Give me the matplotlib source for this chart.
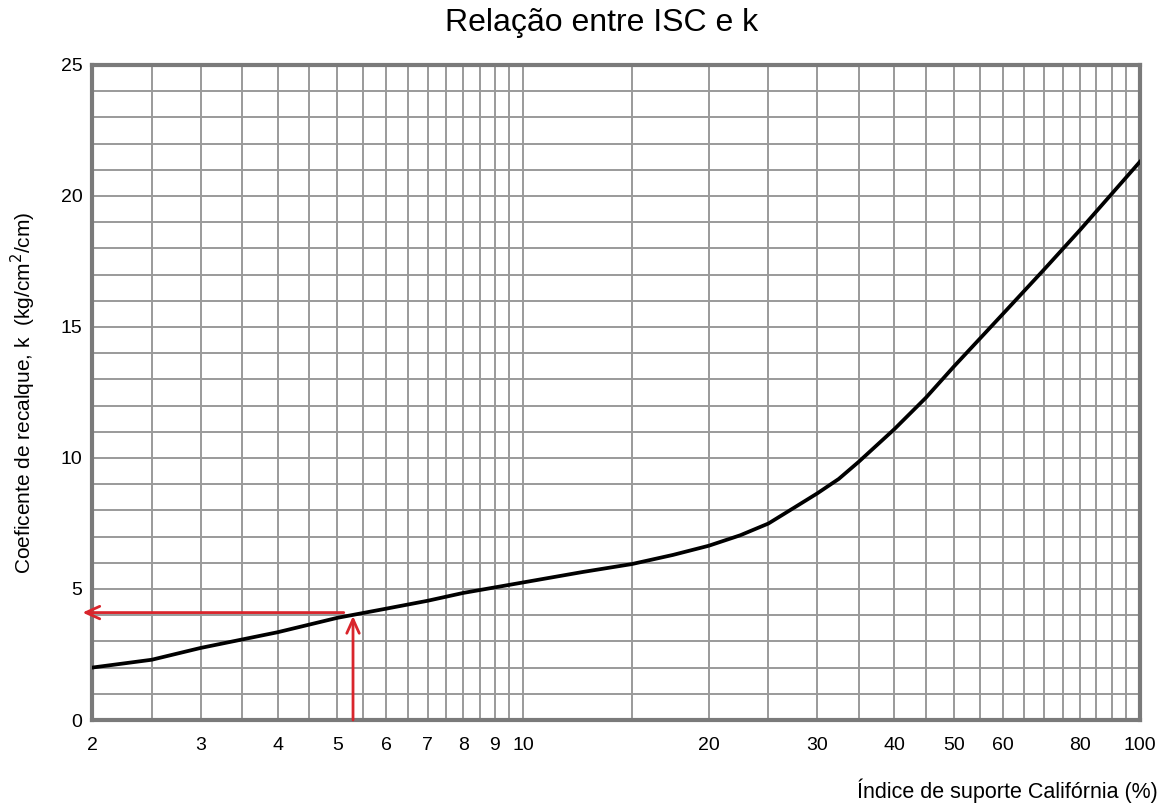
import numpy as np
import matplotlib.pyplot as plt
from matplotlib.ticker import FixedLocator, NullFormatter

plt.rcParams['font.family'] = ['Liberation Sans', 'DejaVu Sans']

# curva ISC x k
isc = [2, 2.5, 3, 4, 5, 6, 7, 8, 10, 12.5, 15, 17.5, 20, 22.5, 25, 27.5, 30, 32.5, 35, 40, 45,
       50, 60, 70, 80, 100]
k = [2.0, 2.3, 2.75, 3.35, 3.9, 4.25, 4.55, 4.85, 5.25, 5.65, 5.95, 6.3, 6.65, 7.05, 7.5, 8.1,
     8.65, 9.2, 9.85, 11.1, 12.3, 13.5, 15.5, 17.2, 18.7, 21.3]

# exemplo de leitura (setas vermelhas)
isc_lido = 5.3
k_lido = 4.1

xtick_vals = [2, 3, 4, 5, 6, 7, 8, 9, 10, 20, 30, 40, 50, 60, 80, 100]
ytick_vals = [0, 5, 10, 15, 20, 25]

fig = plt.figure(figsize=(11.75, 8.07), dpi=100)
ax = fig.add_axes([0.0783, 0.1078, 0.8917, 0.8117])

ax.set_xscale('log')
ax.set_xlim(2, 100)
ax.set_ylim(0, 25)

# papel milimetrado
grid_x = list(np.arange(2, 10, 0.5)) + list(np.arange(10, 101, 5))
ax.xaxis.set_minor_locator(FixedLocator(grid_x))
ax.xaxis.set_minor_formatter(NullFormatter())
ax.set_xticks(xtick_vals)
ax.set_xticklabels([str(v) for v in xtick_vals])
ax.set_yticks(ytick_vals)
ax.set_yticks(np.arange(0, 26, 1), minor=True)
ax.grid(which='both', color='#9a9a9a', lw=1.4)
ax.tick_params(which='both', length=0)
ax.tick_params(axis='x', labelsize=14, pad=12)
ax.tick_params(axis='y', labelsize=14, pad=7)
for s in ax.spines.values():
    s.set_color('#7a7a7a')
    s.set_linewidth(3)

ax.plot(isc, k, color='black', lw=2.7, solid_joinstyle='round', zorder=3)

red = '#d9252c'
head = '->,head_length=1.0,head_width=0.45'
ax.annotate('', xy=(1.93, k_lido), xytext=(5.12, k_lido), annotation_clip=False,
            arrowprops=dict(arrowstyle=head, color=red, lw=2.0, shrinkA=0, shrinkB=0))
ax.annotate('', xy=(isc_lido, 3.97), xytext=(isc_lido, 0), annotation_clip=False,
            arrowprops=dict(arrowstyle=head, color=red, lw=2.0, shrinkA=0, shrinkB=0))

fig.text(0.512, 0.972, 'Relação entre ISC e k', ha='center', va='center', fontsize=23)
ax.set_ylabel('Coeficente de recalque, k  (kg/cm$^2$/cm)', fontsize=15)
ax.yaxis.set_label_coords(-0.052, 0.5)
ax.set_xlabel('Índice de suporte Califórnia (%)', fontsize=15.5, ha='right')
ax.xaxis.set_label_coords(1.017, -0.09)

fig.savefig('out.png', dpi=100)
